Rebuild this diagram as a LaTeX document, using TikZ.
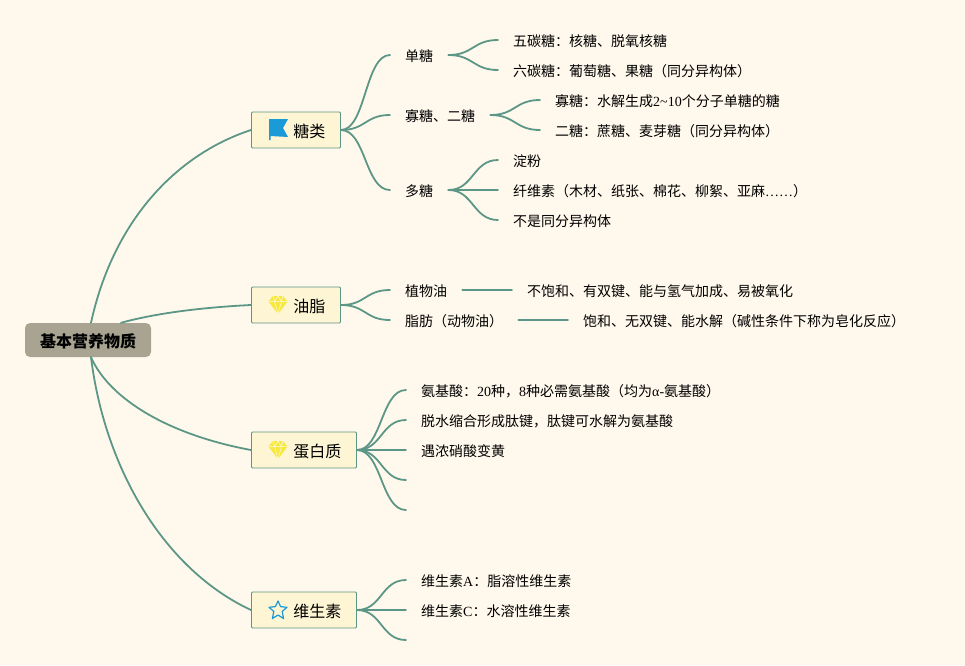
\documentclass[tikz,border=0pt]{standalone}
\usepackage{fontspec}
\setmainfont{Noto Sans CJK SC}
\newfontfamily\lat{Liberation Serif}
\definecolor{bgc}{HTML}{FFF9ED}
\definecolor{linec}{HTML}{5C9686}
\definecolor{boxc}{HTML}{FDF5D3}
\definecolor{rootc}{HTML}{A8A491}
\definecolor{flagc}{HTML}{1B9AD8}
\definecolor{gemc}{HTML}{F6E83C}
\newcommand\lt[1]{{\lat #1}}
\newcommand\br[3]{\draw[conn] (#1.east) .. controls +(#3,0) and +(-#3,0) .. (#2.west);}
\newcommand\gem[2]{%
 \begin{scope}[shift={(#1,#2)}]
 \fill[gemc] (-5,-9) -- (5,-9) -- (9.5,-3.5) -- (0,9) -- (-9.5,-3.5) -- cycle;
 \draw[bgc,line width=.5pt] (-9.5,-3.5) -- (9.5,-3.5) (-5,-9) -- (-3.5,-3.5) -- (0,9) -- (3.5,-3.5) -- (5,-9) (-3.5,-3.5) -- (0,-9) -- (3.5,-3.5);
 \end{scope}}
\tikzset{
 x=1pt,y=-1pt,
 conn/.style={draw=linec,line width=1.8pt,line cap=round},
 txt/.style={anchor=west,inner xsep=15pt,inner ysep=0pt,text height=12.6pt,text depth=0pt,font=\fontsize{14}{16}\selectfont,text=black},
 topic/.style={anchor=west,draw=linec,fill=boxc,line width=.9pt,rounded corners=1pt,inner xsep=15pt,inner ysep=0pt,minimum height=36pt,text height=14.5pt,text depth=0.5pt,font=\fontsize{16}{18}\selectfont,text=black},
 rootn/.style={fill=rootc,rounded corners=5pt,minimum width=126pt,minimum height=34pt,inner sep=0pt,text height=14.5pt,text depth=0.5pt,font=\fontsize{16}{18}\selectfont\bfseries,text=black},
}
\begin{document}
\begin{tikzpicture}
\useasboundingbox (0,0) rectangle (965,665);
\fill[bgc] (0,0) rectangle (965,665);
% root and topics
\node[rootn] (root) at (88,340) {基本营养物质};
\node[topic] (t1) at (251,130) {\hspace*{27pt}糖类};
\node[topic] (t2) at (251,305) {\hspace*{27pt}油脂};
\node[topic] (t3) at (251,450) {\hspace*{27pt}蛋白质};
\node[topic] (t4) at (251,610) {\hspace*{27pt}维生素};
% sugar
\node[txt] (a1) at (390,55) {单糖};
\node[txt] (a2) at (390,115) {寡糖、二糖};
\node[txt] (a3) at (390,190) {多糖};
\node[txt] (a11) at (498,40) {五碳糖：核糖、脱氧核糖};
\node[txt] (a12) at (498,70) {六碳糖：葡萄糖、果糖（同分异构体）};
\node[txt] (a21) at (540,100) {寡糖：水解生成\lt{2\textasciitilde10}个分子单糖的糖};
\node[txt] (a22) at (540,130) {二糖：蔗糖、麦芽糖（同分异构体）};
\node[txt] (a31) at (498,160) {淀粉};
\node[txt] (a32) at (498,190) {纤维素（木材、纸张、棉花、柳絮、亚麻\lt{……}）};
\node[txt] (a33) at (498,220) {不是同分异构体};
% fats
\node[txt] (b1) at (390,290) {植物油};
\node[txt] (b2) at (390,320) {脂肪（动物油）};
\node[txt] (b11) at (512,290) {不饱和、有双键、能与氢气加成、易被氧化};
\node[txt] (b21) at (568,320) {饱和、无双键、能水解（碱性条件下称为皂化反应）};
% protein
\node[txt] (c1) at (406,390) {氨基酸：\lt{20}种，\lt{8}种必需氨基酸（均为\lt{α-}氨基酸）};
\node[txt] (c2) at (406,420) {脱水缩合形成肽键，肽键可水解为氨基酸};
\node[txt] (c3) at (406,450) {遇浓硝酸变黄};
\coordinate (c4) at (406,480);
\coordinate (c5) at (406,510);
% vitamins
\node[txt] (d1) at (406,580) {维生素\lt{A}：脂溶性维生素};
\node[txt] (d2) at (406,610) {维生素\lt{C}：水溶性维生素};
\coordinate (d3) at (406,640);
% root connectors
\draw[conn] ([xshift=3pt]root.north) .. controls (113,222) and (175,155) .. (t1.west);
\draw[conn] ([xshift=33pt]root.north) .. controls (160,312) and (210,307) .. (t2.west);
\draw[conn] ([xshift=3pt]root.south) .. controls (110,400) and (170,435) .. (t3.west);
\draw[conn] ([xshift=3pt]root.south) .. controls (105,470) and (165,570) .. (t4.west);
% branches
\foreach \p/\c in {t1/a1,t1/a2,t1/a3,a1/a11,a1/a12,a2/a21,a2/a22,a3/a31,a3/a32,a3/a33,t2/b1,t2/b2,t3/c1,t3/c2,t3/c3,t4/d1,t4/d2}{\br{\p}{\c}{25}}
\draw[conn] (b1.east) -- (b11.west);
\draw[conn] (b2.east) -- (b21.west);
\draw[conn] (t3.east) .. controls +(25,0) and +(-25,0) .. (c4);
\draw[conn] (t3.east) .. controls +(25,0) and +(-25,0) .. (c5);
\draw[conn] (t4.east) .. controls +(25,0) and +(-25,0) .. (d3);
% icons
\fill[flagc] (269,119) -- (288,119) -- (283,128) -- (288,137) -- (270.5,136) -- (270.5,140) -- (269,140) -- cycle;
\gem{278}{305}
\gem{278}{450}
\draw[flagc,line width=1.2pt,line join=round] (278,601) -- (280.6,606.6) -- (287,607.3) -- (282.2,611.4) -- (283.6,618.5) -- (278,615) -- (272.4,618.5) -- (273.8,611.4) -- (269,607.3) -- (275.4,606.6) -- cycle;
\end{tikzpicture}
\end{document}
